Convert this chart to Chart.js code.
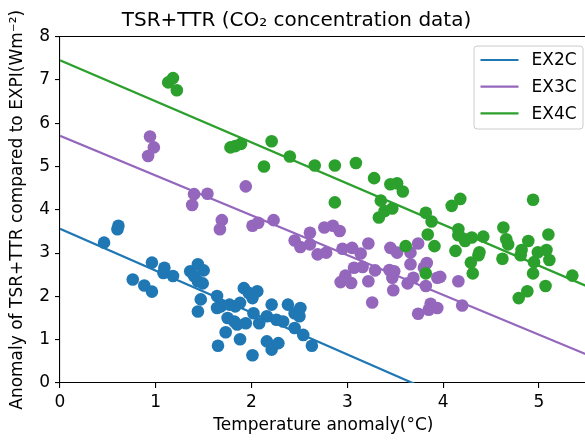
<!DOCTYPE html>
<html><head><meta charset="utf-8">
<script src="https://cdn.jsdelivr.net/npm/chart.js@4"></script>
<style>html,body{margin:0;padding:0;background:#fff;overflow:hidden;width:585px;height:443px}</style>
</head><body>
<canvas id="c" width="593" height="443"></canvas>
<script>
// ---- data ----
const seriesNames = ['EX2C', 'EX3C', 'EX4C'];
const seriesColors = ['#1f77b4', '#9467bd', '#2ca02c'];

const ex2cX = [0.46,0.61,0.60,0.76,0.88,0.96,0.96,1.09,1.08,1.18,1.36,1.44,1.50,1.40,1.44,1.49,1.47,1.44,1.64,1.64,1.68,1.73,1.65,1.77,1.83,1.92,1.97,2.06,2.01,1.88,1.75,1.82,1.85,1.94,2.02,1.88,2.01,2.08,2.16,2.21,2.26,2.33,2.16,2.21,2.28,2.38,2.45,2.51,2.50,2.45,2.54,2.63];
const ex2cY = [3.24,3.63,3.55,2.39,2.25,2.11,2.78,2.66,2.54,2.47,2.58,2.74,2.60,2.47,2.35,2.30,1.93,1.65,2.01,1.73,1.77,1.17,0.86,1.81,1.77,2.19,2.08,2.12,1.96,1.85,1.50,1.42,1.35,1.38,1.61,1.01,0.64,1.38,1.54,1.81,1.46,1.42,0.96,0.77,0.92,1.81,1.61,1.73,1.54,1.27,1.11,0.86];

const ex3cX = [0.94,0.98,0.92,1.40,1.38,1.54,1.94,1.69,1.67,2.01,2.07,2.23,2.45,2.51,2.61,2.61,2.69,2.78,2.76,2.85,2.92,2.95,3.05,3.14,3.22,3.07,3.16,2.98,2.93,3.04,3.29,3.22,3.26,3.45,3.52,3.44,3.49,3.47,3.48,3.66,3.66,3.63,3.69,3.74,3.80,3.83,3.82,3.74,3.85,3.94,3.87,3.94,3.97,4.16,4.20];
const ex3cY = [5.69,5.44,5.24,4.36,4.11,4.37,4.54,3.76,3.55,3.63,3.70,3.76,3.29,3.14,3.47,3.20,2.97,3.01,3.59,3.63,3.51,3.10,3.12,2.99,3.22,2.66,2.68,2.48,2.33,2.31,2.60,2.35,1.86,3.12,3.01,2.61,2.58,2.43,2.14,3.01,2.74,2.30,2.43,3.22,2.66,2.77,2.24,1.60,1.69,1.73,1.83,2.43,2.45,2.35,1.79];

const ex4cX = [1.13,1.18,1.22,1.78,1.83,1.89,2.21,2.13,2.40,2.66,2.87,2.87,3.09,3.28,3.45,3.52,3.58,3.35,3.39,3.47,3.33,3.82,3.88,3.84,3.61,3.82,4.09,4.18,3.91,4.16,4.16,4.23,4.30,4.42,4.13,4.38,4.37,4.29,4.31,4.63,4.66,4.68,4.62,4.82,4.81,4.89,4.94,4.99,5.08,5.11,5.10,4.95,4.94,4.88,4.79,5.07,5.35];
const ex4cY = [6.94,7.04,6.76,5.44,5.47,5.52,5.58,5.00,5.23,5.02,5.02,4.17,5.08,4.73,4.59,4.61,4.42,4.21,3.97,4.03,3.82,3.93,3.73,3.43,3.16,2.53,4.09,4.25,3.16,3.55,3.41,3.28,3.36,3.38,3.05,3.02,2.95,2.78,2.53,3.59,3.32,3.20,2.87,3.07,2.95,3.28,4.23,3.02,3.07,2.84,3.43,2.79,2.53,2.12,1.96,2.24,2.48];

// fitted regression lines
const fitIntercept = [3.56, 5.71, 7.45];
const fitSlope = [-0.967, -0.919, -0.948];

const xTickValues = [0, 1, 2, 3, 4, 5];
const yTickValues = [0, 1, 2, 3, 4, 5, 6, 7, 8];
const xRange = [0, 5.5];
const yRange = [0, 8];

const titleText = 'TSR+TTR (CO\u2082 concentration data)';
const xLabel = 'Temperature anomaly(\u00B0C)';
const yLabel = 'Anomaly of TSR+TTR compared to EXPI(Wm\u207B\u00B2)';

// ---- build datasets ----
const xs = [ex2cX, ex3cX, ex4cX];
const ys = [ex2cY, ex3cY, ex4cY];
const datasets = [];
for (let i = 0; i < 3; i++) {
  datasets.push({
    type: 'scatter',
    label: seriesNames[i] + ' data',
    data: xs[i].map((x, k) => ({x: x, y: ys[i][k]})),
    backgroundColor: seriesColors[i],
    borderWidth: 0,
    pointRadius: 6.3,
    pointHoverRadius: 6.3,
    order: 10 - i
  });
}
for (let i = 0; i < 3; i++) {
  datasets.push({
    type: 'line',
    label: seriesNames[i],
    data: [xRange[0], xRange[1]].map(x => ({x: x, y: fitIntercept[i] + fitSlope[i] * x})),
    borderColor: seriesColors[i],
    borderWidth: 2.2,
    pointRadius: 0,
    fill: false,
    tension: 0,
    order: 3 - i
  });
}

const FONT = "'DejaVu Sans', sans-serif";
Chart.defaults.font.family = FONT;
Chart.defaults.color = '#000';

const framePlugin = {
  id: 'frameLegend',
  afterDraw(chart) {
    const ctx = chart.ctx;
    const a = chart.chartArea;
    ctx.save();
    ctx.strokeStyle = '#000';
    ctx.lineWidth = 1.1;
    ctx.beginPath();
    ctx.moveTo(a.left, a.top);
    ctx.lineTo(a.right, a.top);
    ctx.stroke();

    // legend box
    const bx = 474, by = 46, bw = 109, bh = 83, r = 3;
    ctx.beginPath();
    ctx.moveTo(bx + r, by);
    ctx.arcTo(bx + bw, by, bx + bw, by + bh, r);
    ctx.arcTo(bx + bw, by + bh, bx, by + bh, r);
    ctx.arcTo(bx, by + bh, bx, by, r);
    ctx.arcTo(bx, by, bx + bw, by, r);
    ctx.closePath();
    ctx.fillStyle = 'rgba(255,255,255,0.8)';
    ctx.fill();
    ctx.strokeStyle = '#cccccc';
    ctx.lineWidth = 1;
    ctx.stroke();

    ctx.font = '17px ' + FONT;
    ctx.textBaseline = 'middle';
    ctx.textAlign = 'left';
    for (let i = 0; i < seriesNames.length; i++) {
      const yy = 60 + i * 26.7;
      ctx.strokeStyle = seriesColors[i];
      ctx.lineWidth = 2.2;
      ctx.beginPath();
      ctx.moveTo(480.5, yy);
      ctx.lineTo(518.5, yy);
      ctx.stroke();
      ctx.fillStyle = '#000';
      ctx.fillText(seriesNames[i], 531.5, yy + 1);
    }
    ctx.restore();
  }
};

new Chart(document.getElementById('c'), {
  data: {datasets: datasets},
  options: {
    responsive: false,
    animation: false,
    devicePixelRatio: 1,
    layout: {padding: {left: 0, right: 0, top: 0, bottom: 0}},
    plugins: {
      legend: {display: false},
      tooltip: {enabled: false},
      title: {
        display: true, text: titleText, color: '#000',
        font: {size: 20, weight: 'normal', family: FONT, lineHeight: 1.2},
        padding: {top: 9, bottom: 3.5}
      }
    },
    scales: {
      x: {
        type: 'linear', position: 'bottom',
        min: xRange[0], max: xRange[1],
        afterBuildTicks(s) { s.ticks = xTickValues.map(v => ({value: v})); },
        afterFit(s) { s.height = 60; },
        ticks: {color: '#000', font: {size: 17, family: FONT}, padding: 4, maxRotation: 0, autoSkip: false},
        grid: {display: true, drawOnChartArea: false, drawTicks: true, tickLength: 5, color: '#000', lineWidth: 1.1},
        border: {display: true, color: '#000', width: 1.1},
        title: {display: true, text: xLabel, color: '#000', font: {size: 17, family: FONT, lineHeight: 1.2}, padding: {top: 0, bottom: 6.8}}
      },
      y: {
        type: 'linear', position: 'left',
        min: yRange[0], max: yRange[1],
        afterBuildTicks(s) { s.ticks = yTickValues.map(v => ({value: v})); },
        afterFit(s) { s.width = 60; },
        ticks: {color: '#000', font: {size: 17, family: FONT}, padding: 5, autoSkip: false},
        grid: {display: true, drawOnChartArea: false, drawTicks: true, tickLength: 5, color: '#000', lineWidth: 1.1},
        border: {display: true, color: '#000', width: 1.1},
        title: {display: true, text: yLabel, color: '#000', font: {size: 17, family: FONT, lineHeight: 1.2}, padding: {top: 7, bottom: 0}}
      }
    }
  },
  plugins: [framePlugin]
});
</script>
</body></html>
